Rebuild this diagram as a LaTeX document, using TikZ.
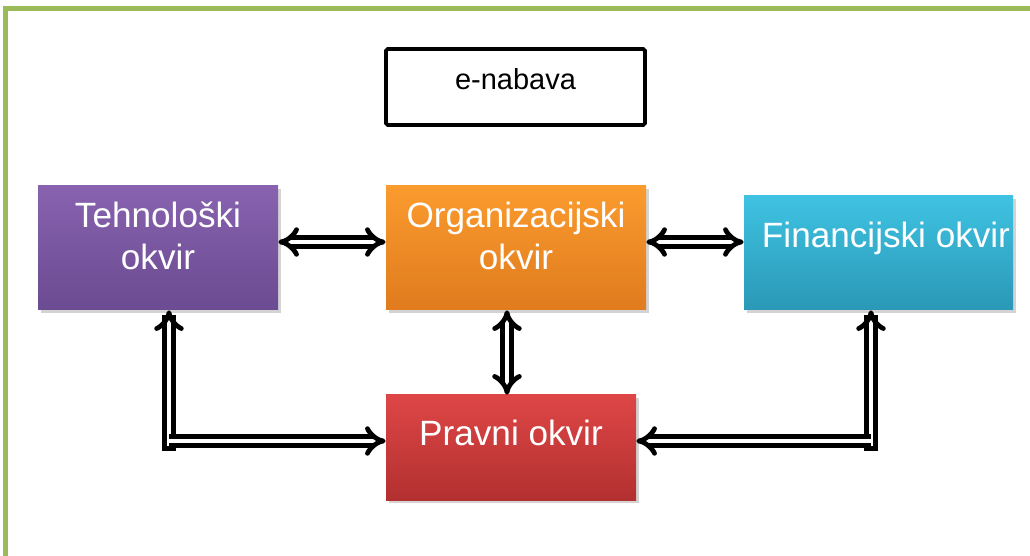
\documentclass[tikz,border=0pt]{standalone}
\usepackage{fontspec}
\setmainfont{Liberation Sans}
\usepackage{tikz}
\usetikzlibrary{calc,arrows.meta,shadows}

\definecolor{okvirgreen}{HTML}{9BBB59}
\definecolor{tehnotop}{HTML}{8862AF}
\definecolor{tehnobot}{HTML}{6B4B91}
\definecolor{orgtop}{HTML}{FA9B2E}
\definecolor{orgbot}{HTML}{E07B1E}
\definecolor{fintop}{HTML}{3FC2E2}
\definecolor{finbot}{HTML}{2A98B6}
\definecolor{pravtop}{HTML}{DE4646}
\definecolor{pravbot}{HTML}{B33030}

\tikzset{
	box/.style={rectangle, inner sep=0pt, drop shadow={opacity=0.35, shadow xshift=0.6mm, shadow yshift=-0.6mm}},
	lbl/.style={text=white, align=center, font=\fontsize{20}{24}\selectfont},
	dbl/.style={draw=black, double=white, line width=2.7pt, double distance=2.6pt},
}

\begin{document}
\begin{tikzpicture}%[semithick]
	\def\W{20.6}	%width of picture
	\def\H{11.12}	%height of picture
	\useasboundingbox (0,0) rectangle (\W,-\H);
	\clip (0,0) rectangle (\W,-\H);
	\draw[okvirgreen, line width=2.8pt] (0.11,-0.17) rectangle (\W+1,-\H-1);	%frame, only left and top show
	
	\node[draw, line width=2.2pt, rounded corners=1pt, minimum width=5.18cm, minimum height=1.52cm] (enab) at (10.31,-1.74) {};
	\node[font=\fontsize{16.5}{20}\selectfont] (enab-t) at ([yshift=1.5mm]enab.center) {e-nabava};
	
	\node[box, top color=tehnotop, bottom color=tehnobot, minimum width=4.8cm, minimum height=2.48cm] (tehno) at (3.16,-4.96) {};
	\node[box, top color=orgtop, bottom color=orgbot, minimum width=5.2cm, minimum height=2.48cm] (org) at (10.32,-4.96) {};
	\node[box, top color=fintop, bottom color=finbot, minimum width=5.38cm, minimum height=2.28cm] (fin) at (17.57,-5.06) {};
	\node[box, top color=pravtop, bottom color=pravbot, minimum width=5cm, minimum height=2.1cm] (prav) at (10.22,-8.95) {};
	
	\node[lbl] (tehno-t) at ([yshift=2.4mm]tehno.center) {Tehnološki\\okvir};
	\node[lbl] (org-t) at ([yshift=2.4mm]org.center) {Organizacijski\\okvir};
	\node[lbl] (fin-t) at ([xshift=1.5mm,yshift=3mm]fin.center) {Financijski okvir};
	\node[lbl] (prav-t) at ([yshift=3mm]prav.center) {Pravni okvir};
	
	\coordinate (lc) at (3.38,-8.87);	%corner under tehno
	\coordinate (rc) at (17.42,-8.87);	%corner under fin
	
	\draw[dbl, {Implies[scale=1.25]}-{Implies[scale=1.25]}] ([yshift=1.2mm]tehno.east) -- ([yshift=1.2mm]org.west);		%tehno--org
	\draw[dbl, {Implies[scale=1.25]}-{Implies[scale=1.25]}] ([yshift=1.2mm]org.east) -- ([yshift=1.2mm]org.east -| fin.west);	%org--fin
	\draw[dbl, {Implies[scale=1.25]}-{Implies[scale=1.25]}] ([xshift=-1.8mm]org.south) -- ([xshift=-1.8mm]org.south |- prav.north);	%org--prav
	
	\draw[dbl, line cap=rect, -{Implies[scale=1.25]}] (lc) -- (lc |- tehno.south);	%up to tehno
	\draw[dbl, -{Implies[scale=1.25]}] ([yshift=1.3mm]prav.west -| lc) -- ([yshift=1.3mm]prav.west);	%right to prav
	\draw[dbl, line cap=rect, -{Implies[scale=1.25]}] (rc) -- (rc |- fin.south);	%up to fin
	\draw[dbl, -{Implies[scale=1.25]}] ([yshift=1.3mm]prav.east -| rc) -- ([yshift=1.3mm]prav.east);	%left to prav
\end{tikzpicture}
\end{document}
